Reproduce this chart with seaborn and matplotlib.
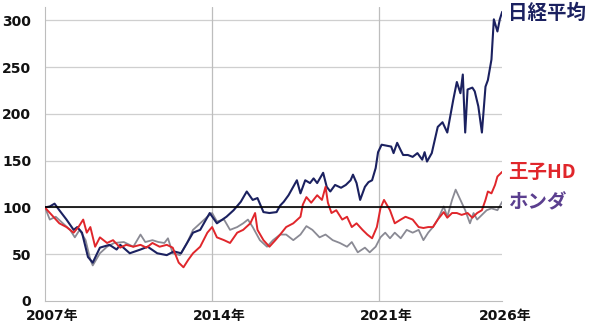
import matplotlib
matplotlib.use("Agg")
import matplotlib.pyplot as plt
import matplotlib.transforms as mtransforms
import seaborn as sns
import pandas as pd

# ---- data ----
nikkei_years = [2007.0, 2007.2, 2007.4, 2007.6, 2007.9, 2008.2, 2008.35, 2008.55, 2008.8, 2009.0,
                2009.3, 2009.7, 2010.0, 2010.15, 2010.55, 2011.0, 2011.3, 2011.7, 2012.1, 2012.4,
                2012.7, 2012.95, 2013.2, 2013.5, 2013.9, 2014.2, 2014.6, 2014.9, 2015.2, 2015.45,
                2015.7, 2015.9, 2016.15, 2016.4, 2016.7, 2016.85, 2017.0, 2017.2, 2017.55, 2017.7,
                2017.9, 2018.1, 2018.25, 2018.4, 2018.65, 2018.8, 2018.95, 2019.15, 2019.4, 2019.6,
                2019.8, 2019.9, 2020.05, 2020.2, 2020.4, 2020.55, 2020.7, 2020.85, 2020.95, 2021.1,
                2021.3, 2021.5, 2021.6, 2021.75, 2021.9, 2022.0, 2022.2, 2022.4, 2022.6, 2022.8,
                2022.9, 2023.0, 2023.2, 2023.45, 2023.65, 2023.85, 2023.95, 2024.1, 2024.25, 2024.4,
                2024.5, 2024.6, 2024.7, 2024.9, 2025.0, 2025.15, 2025.3, 2025.45, 2025.55, 2025.7,
                2025.8, 2025.95, 2026.05, 2026.15]
nikkei_values = [100, 101, 104, 97, 87, 76, 79, 73, 47, 41,
                 57, 60, 55, 60, 51, 55, 58, 51, 49, 53,
                 51, 62, 73, 76, 94, 83, 90, 97, 106, 117,
                 108, 110, 95, 94, 95, 102, 106, 113, 129, 115,
                 129, 126, 131, 126, 137, 122, 117, 124, 121, 124,
                 129, 135, 126, 108, 122, 127, 129, 142, 159, 167,
                 166, 165, 158, 169, 161, 156, 156, 154, 158, 151,
                 159, 149, 158, 186, 191, 180, 194, 215, 234, 222,
                 242, 180, 226, 228, 224, 208, 180, 229, 236, 258,
                 301, 288, 301, 309]

oji_years = [2007.0, 2007.1, 2007.35, 2007.6, 2007.9, 2008.2, 2008.4, 2008.6, 2008.75, 2008.9,
             2009.1, 2009.3, 2009.6, 2009.85, 2010.15, 2010.4, 2010.7, 2011.0, 2011.25, 2011.5,
             2011.8, 2012.1, 2012.35, 2012.6, 2012.8, 2013.0, 2013.2, 2013.5, 2013.8, 2014.0,
             2014.2, 2014.5, 2014.75, 2015.05, 2015.3, 2015.6, 2015.8, 2015.9, 2016.15, 2016.4,
             2016.65, 2016.85, 2017.1, 2017.4, 2017.7, 2017.8, 2017.95, 2018.15, 2018.4, 2018.6,
             2018.75, 2018.85, 2019.0, 2019.2, 2019.45, 2019.65, 2019.85, 2020.05, 2020.3, 2020.5,
             2020.7, 2020.9, 2021.05, 2021.2, 2021.45, 2021.65, 2021.9, 2022.1, 2022.4, 2022.65,
             2022.85, 2023.05, 2023.25, 2023.45, 2023.7, 2023.85, 2024.05, 2024.25, 2024.45, 2024.7,
             2024.9, 2025.1, 2025.3, 2025.45, 2025.55, 2025.7, 2025.85, 2025.95, 2026.15]
oji_values = [100, 97, 90, 83, 79, 73, 79, 87, 73, 79,
              58, 68, 62, 65, 57, 60, 58, 60, 57, 62,
              58, 60, 57, 41, 36, 44, 51, 58, 73, 79,
              68, 65, 62, 73, 76, 83, 94, 76, 65, 58,
              65, 71, 79, 83, 90, 103, 111, 105, 113, 108,
              122, 105, 94, 97, 87, 90, 79, 83, 76, 71,
              67, 79, 99, 108, 97, 83, 87, 90, 87, 79,
              78, 79, 79, 87, 95, 89, 94, 94, 92, 94,
              89, 94, 97, 108, 117, 115, 124, 133, 138]

honda_years = [2007.0, 2007.2, 2007.45, 2007.75, 2008.05, 2008.25, 2008.45, 2008.7, 2008.9, 2009.0,
               2009.3, 2009.6, 2009.9, 2010.3, 2010.7, 2011.0, 2011.2, 2011.5, 2011.75, 2012.0,
               2012.15, 2012.35, 2012.65, 2012.95, 2013.2, 2013.5, 2013.8, 2014.0, 2014.2, 2014.5,
               2014.75, 2015.05, 2015.3, 2015.5, 2015.7, 2016.0, 2016.3, 2016.55, 2016.85, 2017.1,
               2017.4, 2017.7, 2017.95, 2018.2, 2018.5, 2018.75, 2019.05, 2019.35, 2019.65, 2019.85,
               2020.1, 2020.4, 2020.6, 2020.85, 2021.05, 2021.25, 2021.45, 2021.65, 2021.9, 2022.15,
               2022.4, 2022.65, 2022.85, 2023.05, 2023.25, 2023.45, 2023.7, 2023.85, 2024.05, 2024.2,
               2024.4, 2024.6, 2024.8, 2024.95, 2025.1, 2025.3, 2025.5, 2025.7, 2025.95, 2026.15]
honda_values = [100, 87, 90, 83, 76, 68, 76, 65, 44, 38,
                51, 58, 62, 63, 58, 71, 63, 65, 63, 62,
                67, 51, 49, 62, 76, 83, 90, 94, 85, 87,
                76, 79, 83, 87, 79, 65, 58, 65, 71, 71,
                65, 71, 80, 76, 68, 71, 65, 62, 58, 63,
                52, 57, 52, 58, 68, 73, 67, 73, 67, 76,
                73, 76, 65, 73, 79, 87, 101, 90, 108, 119,
                108, 97, 83, 94, 87, 92, 97, 99, 97, 106]

series_names = ["日経平均", "王子HD", "ホンダ"]
line_colors = ["#1b2160", "#e0262b", "#8a8a94"]
label_colors = ["#1b2160", "#e0262b", "#5b3f8f"]
label_values = [307, 137, 105]

x_ticks = [2007, 2014, 2021, 2026]
x_tick_labels = ["2007年", "2014年", "2021年", "2026年"]
y_ticks = [0, 50, 100, 150, 200, 250, 300]
baseline = 100

# ---- build ----
df_n = pd.DataFrame({"year": nikkei_years, "value": nikkei_values, "series": series_names[0]})
df_o = pd.DataFrame({"year": oji_years, "value": oji_values, "series": series_names[1]})
df_h = pd.DataFrame({"year": honda_years, "value": honda_values, "series": series_names[2]})

sns.set_style("white")
plt.rcParams["font.family"] = ["DejaVu Sans", "Noto Sans CJK JP"]

fig = plt.figure(figsize=(6.0, 3.24), dpi=100)
ax = fig.add_axes([0.075, 0.071, 0.762, 0.907])

sns.lineplot(data=df_h, x="year", y="value", color=line_colors[2], lw=1.3, ax=ax, zorder=3)
sns.lineplot(data=df_n, x="year", y="value", color=line_colors[0], lw=1.5, ax=ax, zorder=4)
sns.lineplot(data=df_o, x="year", y="value", color=line_colors[1], lw=1.4, ax=ax, zorder=5)

ax.axhline(baseline, color="black", lw=1.2, zorder=6)

ax.set_xlim(2007.0, 2026.15)
ax.set_ylim(0, 314)
ax.set_yticks(y_ticks)
ax.set_yticklabels([str(v) for v in y_ticks], fontsize=10, fontweight="bold", color="#111111")
ax.set_xticks(x_ticks)
ax.set_xticklabels(x_tick_labels, fontsize=10, fontweight="bold", color="#111111")
ax.tick_params(axis="y", length=0, pad=10)
ax.tick_params(axis="x", length=0, pad=6)
offset = mtransforms.ScaledTranslation(7 / 100, 0, fig.dpi_scale_trans)
for lab in ax.get_xticklabels():
    lab.set_transform(lab.get_transform() + offset)

ax.set_xlabel("")
ax.set_ylabel("")
ax.grid(False)
for v in y_ticks[1:]:
    ax.axhline(v, color="#cfcfcf", lw=0.9, zorder=1)
for x in x_ticks[1:3]:
    ax.axvline(x, color="#bdbdbd", lw=0.9, zorder=1)

for s in ["top", "right"]:
    ax.spines[s].set_visible(False)
ax.spines["left"].set_color("#bdbdbd")
ax.spines["bottom"].set_color("#bdbdbd")

for name, col, yv in zip(series_names, label_colors, label_values):
    ax.annotate(name, xy=(2026.15, yv), xytext=(4, 0), textcoords="offset points",
                ha="left", va="center", fontsize=14, fontweight="bold", color=col,
                family=["Noto Sans CJK JP", "DejaVu Sans"], annotation_clip=False)

fig.savefig("out.png", dpi=100)
